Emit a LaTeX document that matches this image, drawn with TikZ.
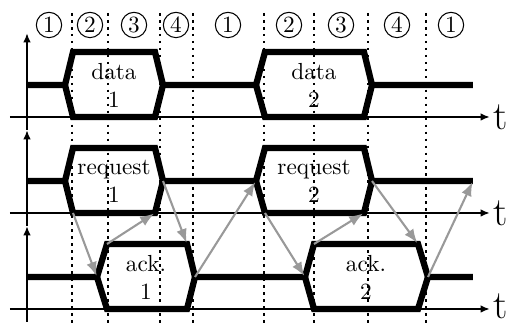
\documentclass[tikz,border=0pt]{standalone}
\usepackage{tikz}
\usetikzlibrary{arrows.meta,positioning}
\tikzset{sig/.style={line width=2.7pt,line join=miter}}
\tikzset{axis/.style={line width=1.1pt,-{Latex[length=4pt,width=3.2pt]}}}
\tikzset{phaseline/.style={line width=1.1pt,dash pattern=on 1.1pt off 1.9pt}}
\tikzset{hand/.style={black!40,line width=0.9pt,shorten >=0.5pt,-{Latex[length=6pt,width=4.6pt]}}}
\tikzset{num/.style={draw,circle,line width=0.45pt,inner sep=0pt,minimum size=10.9pt}}
\tikzset{lbl/.style={align=center}}
\tikzset{tlab/.style={font=\LARGE,inner sep=0pt,anchor=base west}}

\begin{document}
\begin{tikzpicture}[x=0.43pt,y=-0.43pt]
\useasboundingbox (0,0) rectangle (510,326);
% phases
\foreach \x in {72,108,160,193,264,314,368,426}
  \draw[phaseline] (\x,13) -- (\x,326);
\foreach \x/\n [count=\i] in {49/1,90/2,134/3,176/4,228/1,289/2,341/3,397/4,451/1}
  \node[num] (p\i) at (\x,25) {\n};

% axes
\draw[axis] (27,130) -- (27,33);
\draw[axis] (27,226) -- (27,130);
\draw[axis] (27,322) -- (27,226);
\draw[axis] (10,117) -- (490,117);
\draw[axis] (10,213) -- (490,213);
\draw[axis] (10,309) -- (490,309);
\node[tlab] (t1) at (493,130) {t};
\node[tlab] (t2) at (493,226) {t};
\node[tlab] (t3) at (493,319) {t};

% data
\draw[sig] (27,85) -- (65,85) -- (73,52) -- (155,52) -- (163,85) -- (256,85)
  -- (265,52) -- (364,52) -- (372,85) -- (473,85);
\draw[sig] (65,85) -- (73,117) -- (155,117) -- (163,85)
  (256,85) -- (265,117) -- (364,117) -- (372,85);
\node[lbl] (d1) at (114,85) {data\\1};
\node[lbl] (d2) at (314,85) {data\\2};

% request
\coordinate (r1l) at (65,181);
\coordinate (r1bl) at (73,213);
\coordinate (r1br) at (155,213);
\coordinate (r1r) at (163,181);
\coordinate (r2l) at (256,181);
\coordinate (r2bl) at (265,213);
\coordinate (r2br) at (364,213);
\coordinate (r2r) at (372,181);
\coordinate (rend) at (473,181);
\draw[sig] (27,181) -- (r1l) -- (73,148) -- (155,148) -- (r1r) -- (r2l)
  -- (265,148) -- (364,148) -- (r2r) -- (rend);
\draw[sig] (r1l) -- (r1bl) -- (r1br) -- (r1r) (r2l) -- (r2bl) -- (r2br) -- (r2r);
\node[lbl] (r1) at (114,181) {request\\1};
\node[lbl] (r2) at (314,181) {request\\2};

% acknowledge
\coordinate (a1l) at (97,277);
\coordinate (a1tl) at (107,244);
\coordinate (a1tr) at (187,244);
\coordinate (a1r) at (195,277);
\coordinate (a2l) at (305,277);
\coordinate (a2tl) at (314,244);
\coordinate (a2tr) at (418,244);
\coordinate (a2r) at (428,277);
\draw[sig] (27,277) -- (a1l) -- (a1tl) -- (a1tr) -- (a1r) -- (a2l)
  -- (a2tl) -- (a2tr) -- (a2r) -- (473,277);
\draw[sig] (a1l) -- (107,309) -- (187,309) -- (a1r)
  (a2l) -- (314,309) -- (418,309) -- (a2r);
\node[lbl] (a1) at (146,277) {ack.\\1};
\node[lbl] (a2) at (366,277) {ack.\\2};

% handshake
\draw[hand] (r1bl) -- (a1l);
\draw[hand] (a1tl) -- (r1br);
\draw[hand] (r1r) -- (a1tr);
\draw[hand] (a1r) -- (r2l);
\draw[hand] (r2bl) -- (a2l);
\draw[hand] (a2tl) -- (r2br);
\draw[hand] (r2r) -- (a2tr);
\draw[hand] (a2r) -- (rend);
\end{tikzpicture}
\end{document}
